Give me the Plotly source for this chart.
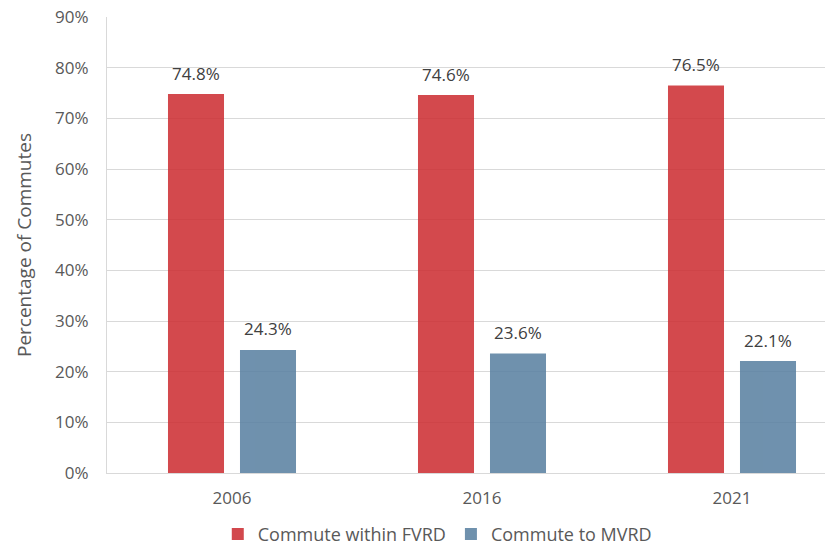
import plotly.graph_objects as go

years = ["2006", "2016", "2021"]
within_fvrd = [74.8, 74.6, 76.5]
to_mvrd = [24.3, 23.6, 22.1]
y_ticks = [0, 10, 20, 30, 40, 50, 60, 70, 80, 90]

font = "Open Sans"
grey = "#595959"

fig = go.Figure()
fig.add_trace(go.Bar(
    x=years, y=within_fvrd, name="Commute within FVRD",
    marker=dict(color="#CC2E33", line=dict(width=0)), opacity=0.87,
))
fig.add_trace(go.Bar(
    x=years, y=to_mvrd, name="Commute to MVRD",
    marker=dict(color="#5A81A2", line=dict(width=0)), opacity=0.87,
))

# value labels above the bars (x given as category index)
for vals, shift in [(within_fvrd, -36), (to_mvrd, 36)]:
    for i, v in enumerate(vals):
        fig.add_annotation(x=i, y=v, text=f"{v:.1f}%", showarrow=False,
                           xshift=shift, yshift=21, yanchor="middle",
                           font=dict(size=17, color="#404040", family=font))

fig.update_layout(
    width=825, height=553,
    margin=dict(l=107, r=0, t=17, b=80),
    paper_bgcolor="white", plot_bgcolor="white",
    barmode="group", bargap=0.424, bargroupgap=0.222,
    font=dict(family=font, size=17, color=grey),
    legend=dict(orientation="h", x=0.46, xanchor="center",
                y=-0.175, yanchor="bottom",
                font=dict(size=18, color=grey), traceorder="normal"),
    xaxis=dict(type="category", range=[-0.5, 2.372], showgrid=False,
               showline=True, linecolor="#D9D9D9", linewidth=1,
               ticks="", automargin=False, ticklabelstandoff=10,
               tickfont=dict(size=17, color=grey)),
    yaxis=dict(range=[0, 90], tickvals=y_ticks,
               ticktext=[f"{v}%" for v in y_ticks],
               showgrid=True, gridcolor="#D9D9D9", gridwidth=1,
               showline=True, linecolor="#D9D9D9", zeroline=False,
               ticks="", automargin=False, ticklabelstandoff=14,
               tickfont=dict(size=17, color=grey),
               title=dict(text="Percentage of Commutes", standoff=18,
                          font=dict(size=19, color=grey))),
)

fig.write_html("out.html", config={"displayModeBar": False},
               post_script="document.body.style.margin='0';")
